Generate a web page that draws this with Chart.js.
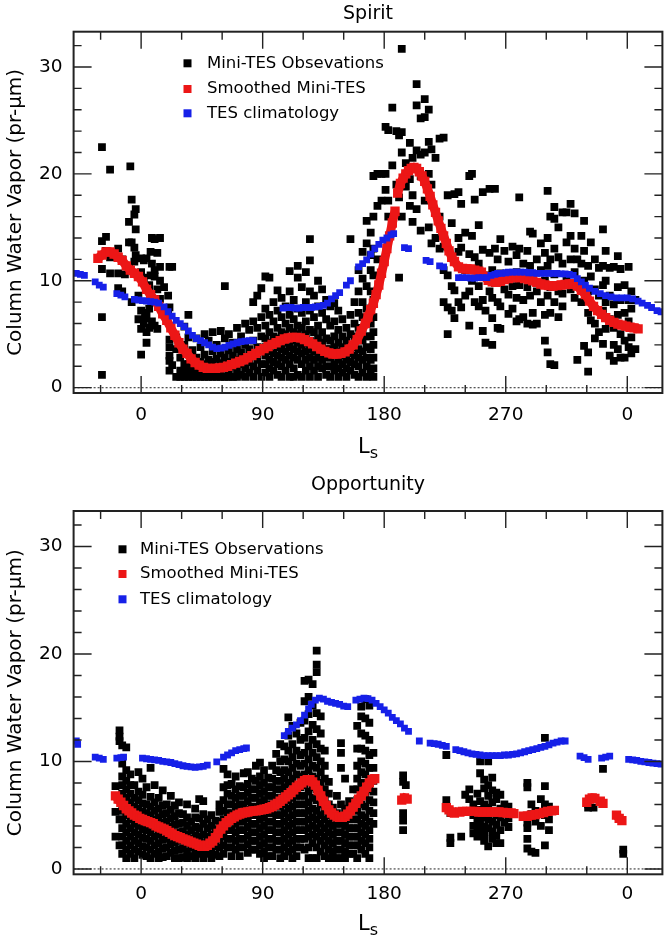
<!DOCTYPE html>
<html><head><meta charset="utf-8">
<script src="https://cdn.jsdelivr.net/npm/chart.js@4.4.0/dist/chart.umd.min.js"></script>
<style>
html,body{margin:0;padding:0;background:#fff;}
#wrap{position:relative;width:669px;height:942px;overflow:hidden;}
canvas{position:absolute;left:0;}
</style></head><body>
<div id="wrap">
<canvas id="c1" width="669" height="471" style="top:0"></canvas>
<canvas id="c2" width="669" height="471" style="top:471px"></canvas>
</div>
<script>
// ---------- axis ticks ----------
const xTickValues = [0, 90, 180, 270, 360];
const xTickLabels = ['0', '90', '180', '270', '0'];
const xMinorTicks = [-30, 30, 60, 120, 150, 210, 240, 300, 330];
const yTickValues = [0, 10, 20, 30];
const yMinorTicks = [2, 4, 6, 8, 12, 14, 16, 18, 22, 24, 26, 28, 32];

const spiritLegend = ['Mini-TES Obsevations', 'Smoothed Mini-TES', 'TES climatology'];
const oppLegend = ['Mini-TES Observations', 'Smoothed Mini-TES', 'TES climatology'];

// ---------- Spirit ----------
// Mini-TES observations: [Ls, [column water vapor values at that Ls]]
const spiritObs = [
 [-29,[22.5,13.7,11.1,6.6,1.2]],[-26,[14.1,12.8]],[-23,[20.4,12.2,10.7]],[-17,[13.0,10.7,9.3]],
 [-14,[9.0,12.0]],[-12,[10.6]],[-9,[15.5,13.6,11.2]],[-8,[20.7]],[-7,[17.6,13.6,8.0]],
 [-5,[16.2,13.1,11.8]],[-4,[16.7,14.8,12.4]],[-2,[8.6,6.4]],[0,[12.1,10.8,7.2,5.5,3.1]],
 [2,[11.9,10.3,6.0]],[3,[7.0,6.5]],[4,[12.1,6.8,5.2,4.2]],[6,[9.6,9.0,5.6,7.4]],[7,[10.5,12.7]],
 [8,[14.0,11.6,6.2]],[10,[13.9,11.0,10.4,5.8]],[12,[12.6,9.2,5.5]],[14,[14.0,11.3,10.0,8.3]],
 [17,[9.4,7.2]],[20,[8.6,6.9]],[21,[11.3,7.5,4.5,3.8,3.0,2.5,1.6]],[23,[11.3,2.1]],
 [26,[4.7,3.6,1.0]],[29,[2.8,1.6,1.0]],[32,[5.7,4.0,2.2,1.6,1.0]],[35,[6.8,4.7,2.2,1.6,1.0]],
 [38,[3.5,2.2,1.6,1.0]],[41,[4.6,2.8,2.2,1.6,1.0]],[44,[3.8,2.4,1.6,1.0]],[47,[5.0,3.1,2.2,1.6,1.0]],
 [50,[4.4,2.6,1.6,1.0]],[53,[5.2,3.4,2.4,1.6,1.0]],[56,[4.0,2.7,1.8,1.0]],[59,[5.3,3.2,2.3,1.6,1.0]],
 [62,[9.5,4.6,2.8,1.8,1.0]],[65,[5.0,3.5,2.4,1.6,1.0]],[68,[4.2,3.0,2.0,1.0]],[71,[5.6,3.6,2.6,1.6,1.0]],
 [74,[4.8,3.3,2.2,1.2]],[77,[6.0,4.0,2.8,1.8,1.0]],[80,[5.4,3.6,2.4,1.4]],[83,[8.0,6.2,4.4,3.2,2.0,1.0]],
 [86,[8.6,5.6,3.8,2.6,1.6]],[89,[9.3,6.6,4.8,3.4,2.2,1.0]],
 [92,[10.4,7.4,5.8,4.6,3.8,3.0,2.2,1.4]],[95,[10.3,6.8,5.2,4.2,3.4,2.6,1.8,1.0]],
 [98,[8.0,6.2,4.8,4.0,3.2,2.4,1.6]],[101,[9.1,7.2,5.6,4.6,3.8,3.0,2.2,1.2]],
 [104,[8.4,6.6,5.2,4.4,3.6,2.8,2.0,1.0]],[107,[7.6,6.0,5.0,4.2,3.4,2.6,1.6]],
 [110,[10.9,9.0,6.8,5.6,4.6,3.8,3.0,2.2,1.0]],[113,[8.2,6.4,5.2,4.4,3.6,2.8,1.8,1.0]],
 [116,[11.4,10.3,7.4,5.8,5.0,4.2,3.4,2.6,1.2]],[119,[9.4,7.0,5.6,4.8,4.0,3.2,2.2,1.0]],
 [122,[10.8,8.0,6.2,5.0,4.2,3.4,2.6,1.6]],[125,[13.9,11.9,9.0,7.2,5.4,4.4,3.6,2.8,2.0,1.0]],
 [128,[8.6,6.6,5.2,4.2,3.4,2.6,1.6]],[131,[10.0,7.6,5.8,4.6,3.6,2.8,2.0,1.0]],
 [134,[9.2,7.0,5.2,4.2,3.4,2.6,1.8]],[137,[8.2,6.4,4.6,3.6,2.8,2.0,1.2]],
 [140,[7.6,5.8,4.4,3.6,2.8,2.0,1.0]],[143,[7.9,6.2,4.8,3.8,3.0,2.2,1.6]],
 [146,[7.2,5.4,4.2,3.4,2.6,1.8,1.0]],[149,[6.4,4.8,3.8,3.0,2.2,1.4]],
 [152,[5.6,4.4,3.4,2.6,1.8,1.0]],[155,[13.9,6.8,5.0,4.0,3.2,2.4,1.6]],
 [158,[8.0,6.0,4.8,3.8,3.0,2.2,1.2]],[161,[11.0,9.0,7.0,5.6,4.6,3.6,2.8,2.0,1.0]],
 [164,[12.7,10.2,8.0,6.6,5.4,4.4,3.4,2.6,1.4]],[167,[15.6,13.5,9.5,7.4,6.0,4.8,3.8,2.8,2.0,1.0]],
 [170,[14.5,12.4,11.0,9.0,7.4,6.0,4.8,3.6,2.6,1.6]],[172,[19.8,16.0,13.0,10.5,8.2,6.6,5.2,4.0,2.8,1.8,1.0]],
 [175,[20.0,17.0,12.0]],[178,[17.5,20.0]],[181,[20.0,24.4,18.5]],[183,[24.1,17.5,16.0]],
 [186,[26.2,20.8]],[189,[24.0,19.0]],[191,[23.6,17.8,10.3]],[193,[31.7,23.9,22.0,16.0]],
 [196,[21.0,18.8]],[199,[22.9,19.5,17.0]],[201,[21.5,18.0,15.5]],[204,[28.4,26.4,22.2,16.7]],
 [207,[25.2,21.8,19.8,14.7]],[210,[27.0,25.3,22.0,17.5]],[213,[26.0,23.0,20.0,15.0]],
 [215,[22.3,19.0,13.5]],[218,[21.5,14.0]],[221,[23.3,16.0,13.0]],[224,[23.4,13.2,11.0,8.0]],
 [227,[18.0,10.5,7.5,5.0]],[230,[15.4,9.5,7.2]],[232,[18.1,9.1,6.5]],[235,[18.3,14.0,12.7,8.0]],
 [237,[17.2,13.1,7.5]],[240,[14.5,11.0,8.6]],[243,[19.8,12.5,9.0,5.8]],[245,[20.0,14.2,10.0]],
 [247,[17.6,12.2,8.0]],[250,[15.2,11.6,9.5,7.6]],[253,[18.3,12.9,8.2,5.3]],[255,[10.5,7.2,4.2]],
 [258,[18.6,12.6,9.0]],[260,[11.0,8.4,6.5,4.0]],[262,[18.6,13.0,9.8]],[264,[12.0,8.0,5.6]],
 [266,[13.9,10.7,7.6,5.5]],[269,[12.8,9.2]],[272,[11.8,10.4,8.7,6.9]],[275,[13.2,9.5,7.4]],
 [278,[12.4,10.8,8.4,6.2]],[280,[17.8,13.0,9.6,6.4]],[283,[11.6,8.2,6.6]],[286,[12.8,9.4,6.0]],
 [288,[14.6,11.4,8.6]],[290,[14.4,10.2,7.0,5.9]],[293,[12.0,9.0,6.0]],[296,[13.5,11.0,8.0]],
 [299,[12.6,10.0,6.8,4.4]],[301,[18.4,14.0,11.4,8.6,3.3]],[303,[16.0,12.0,9.4,7.0,2.2]],
 [306,[16.9,15.8,13.0,10.6,8.0,2.1]],[309,[15.0,12.2,9.0,6.6]],[312,[16.4,11.6,8.8,7.6]],
 [315,[16.4,13.6,10.4]],[318,[17.2,14.2,12.0,9.2]],[321,[16.3,13.0,10.8,8.4]],[323,[12.0,9.6,2.6]],
 [326,[14.2,11.6,8.0]],[328,[15.6,12.8,10.0,3.9]],[331,[11.4,9.0,7.0,3.3,1.5]],[333,[13.6,10.4,6.3]],
 [336,[12.0,9.2,6.0,4.6]],[339,[11.2,8.6,5.2]],[342,[14.8,11.4,9.6,7.2,4.1]],[344,[12.8,10.0,8.0,5.5]],
 [347,[11.2,8.6,6.4,3.0]],[350,[11.3,7.8,5.6,4.0,2.5]],[353,[12.3,9.4,6.8,3.6]],[355,[11.1,8.2,5.0,2.8]],
 [358,[9.6,7.0,4.4,2.8]],[361,[11.3,8.2,6.2,3.8]],[363,[9.0,7.4,4.7,3.2]],[366,[8.2,5.6,3.6]]
];
// Smoothed Mini-TES: [Ls, value]; null marks a break in the curve
const spiritSmoothed = [
 [-32,12.1],[-29,12.4],[-26,12.7],[-23,12.7],[-20,12.5],[-17,12.2],[-14,11.9],[-11,11.4],[-8,11.0],
 [-5,10.7],[-2,10.4],[1,9.9],[4,9.2],[7,8.7],[10,8.2],[13,7.6],[16,6.9],[19,6.3],[22,5.6],[25,4.9],
 [28,4.2],[31,3.6],[34,3.2],[37,2.7],[40,2.35],[43,2.1],[46,1.9],[49,1.8],[52,1.8],[55,1.8],
 [58,1.85],[61,1.9],[64,2.0],[67,2.15],[70,2.3],[73,2.45],[76,2.6],[79,2.8],[82,3.0],[85,3.2],
 [88,3.45],[91,3.65],[94,3.85],[97,4.05],[100,4.2],[103,4.4],[106,4.55],[109,4.65],[112,4.7],
 [115,4.7],[118,4.65],[121,4.5],[124,4.3],[127,4.1],[130,3.85],[133,3.6],[136,3.4],[139,3.25],
 [142,3.15],[145,3.15],[148,3.2],[151,3.35],[154,3.6],[157,4.0],[160,4.5],[163,5.3],[166,6.0],
 [168,6.6],[170,7.3],[172,7.9],[174,8.7],[176,9.6],[178,10.7],[180,11.8],[182,13.0],[184,14.2],
 [186,15.4],[188,16.5],null,
 [190,18.2],[192,19.1],[194,19.6],[196,20.0],[198,20.3],[200,20.5],[202,20.6],[204,20.5],
 [206,20.2],[208,19.8],[210,19.3],[212,18.6],[214,17.9],[216,17.1],[218,16.4],[220,15.6],
 [222,14.9],[224,14.2],[226,13.5],[228,12.8],[230,12.2],[232,11.8],[235,11.3],[238,11.15],
 [241,11.1],[244,11.1],[247,11.0],[250,10.9],[252,10.8],[254,10.4],[257,10.05],[260,9.9],
 [263,9.86],[266,9.95],[269,10.1],[272,10.2],[275,10.3],[278,10.3],[281,10.3],[284,10.2],
 [287,10.1],[290,10.0],[293,9.85],[296,9.7],[299,9.6],[302,9.55],[305,9.5],[308,9.55],
 [311,9.6],[314,9.65],[317,9.7],[320,9.7],[323,9.5],[326,9.1],[329,8.7],[332,8.1],[335,7.6],
 [338,7.2],[341,6.85],[344,6.55],[347,6.3],[350,6.1],[353,5.95],[356,5.85],[359,5.75],
 [362,5.65],[365,5.6],[368,5.5]
];
// TES climatology: [Ls, value]
const spiritTES = [
 [-48,10.7],[-45,10.6],[-42,10.5],[-34,9.9],[-31,9.6],[-28,9.4],[-18,8.8],[-15,8.65],[-12,8.5],
 [-5,8.25],[-2,8.2],[1,8.15],[4,8.1],[7,8.05],[10,8.0],[13,7.9],[17,7.55],[20,7.1],[23,6.7],
 [26,6.3],[29,6.0],[32,5.7],[35,5.3],[38,4.9],[41,4.6],[44,4.4],[47,4.2],[50,4.0],[53,3.8],
 [56,3.65],[59,3.7],[62,3.8],[65,3.95],[68,4.1],[71,4.2],[74,4.3],[77,4.35],[80,4.4],[83,4.4],
 [105,7.45],[108,7.5],[111,7.5],[114,7.45],[117,7.45],[120,7.5],[123,7.5],[126,7.5],[129,7.55],
 [132,7.6],[135,7.7],[138,7.9],[141,8.3],[144,8.6],[147,8.9],[152,9.6],[155,10.0],[161,11.3],
 [164,11.6],[167,11.95],[170,12.5],[173,13.0],[176,13.4],[179,13.8],[182,14.0],[185,14.3],
 [187,14.4],[195,13.1],[198,13.0],[211,11.9],[214,11.8],[221,11.4],[224,11.3],
 [235,10.3],[238,10.3],[241,10.3],[244,10.25],[247,10.25],[250,10.3],[253,10.3],[256,10.3],
 [259,10.5],[262,10.6],[264,10.7],[267,10.7],[270,10.75],[272,10.8],[275,10.8],[278,10.8],
 [281,10.8],[284,10.8],[287,10.75],[290,10.75],[293,10.7],[296,10.7],[299,10.7],[302,10.7],
 [305,10.7],[308,10.7],[311,10.65],[314,10.65],[317,10.6],[320,10.5],[323,10.2],[326,9.9],
 [329,9.6],[332,9.3],[336,9.0],[340,8.8],[344,8.6],[348,8.5],[352,8.4],[356,8.4],[360,8.4],
 [364,8.3],[368,8.1],[371,7.9],[375,7.7],[378,7.5],[382,7.2],[385,7.1]
];

// ---------- Opportunity ----------
const oppObs = [
 [-19,[7.7,5.3,3.0]],[-16,[12.9,12.3,11.9,6.4,4.6,2.2]],
 [-14,[11.5,9.8,8.6,7.8,7.0,6.2,5.4,4.6,3.8,3.0,2.2,1.4]],[-11,[11.3,9.2,8.2,7.4,6.6,5.8,5.0,4.2,3.4,2.6,1.8,1.0]],
 [-8,[8.8,7.8,7.0,6.2,5.4,4.6,3.8,3.0,2.2,1.4]],[-5,[7.8,6.6,5.8,5.0,4.2,3.4,2.6,1.8,1.0]],
 [-2,[9.0,7.2,6.4,5.6,4.8,4.0,3.2,2.4,1.6]],[1,[8.4,6.9,6.1,5.3,4.5,3.7,2.9,2.1,1.3]],
 [4,[7.6,6.0,5.2,4.4,3.6,2.8,2.0,1.2]],[7,[9.4,6.7,5.8,5.0,4.2,3.4,2.6,1.8,1.0]],
 [10,[7.8,6.2,5.4,4.6,3.8,3.0,2.2,1.4]],[13,[6.6,5.6,4.8,4.0,3.2,2.4,1.6,1.0]],
 [16,[7.3,5.9,5.1,4.3,3.5,2.7,1.9,1.1]],[19,[6.0,5.2,4.4,3.6,2.8,2.0,1.2]],
 [22,[6.8,5.5,4.7,3.9,3.1,2.3,1.5]],[25,[5.9,4.9,4.1,3.3,2.5,1.7,1.0]],
 [28,[6.2,5.2,4.2,3.4,2.6,1.8,1.0]],[31,[5.1,4.3,3.5,2.7,1.9,1.1]],
 [34,[6.0,4.8,4.0,3.2,2.4,1.6,1.0]],[37,[4.4,3.6,2.8,2.0,1.2]],
 [40,[5.6,4.8,3.9,3.1,2.3,1.5,1.0]],[43,[6.5,4.7,3.8,3.0,2.2,1.4]],
 [46,[6.3,5.1,4.2,3.2,2.4,1.6,1.0]],[49,[4.6,3.8,3.0,2.2,1.4]],
 [52,[5.0,4.0,3.2,2.4,1.6,1.0]],[55,[4.5,3.7,2.9,2.1,1.3]],
 [58,[6.0,5.3,4.4,3.6,2.8,2.0,1.2]],[61,[9.3,7.6,6.4,5.4,4.6,3.8,3.0,2.2,1.4]],
 [64,[8.8,7.8,7.0,6.0,5.2,4.4,3.6,2.8,2.0]],[67,[7.9,6.8,6.0,5.2,4.4,3.6,2.8,2.0,1.2]],
 [70,[8.6,7.4,6.6,5.8,5.0,4.2,3.4,2.6,1.8]],[73,[7.7,6.8,6.0,5.2,4.4,3.6,2.8,2.0,1.2]],
 [76,[8.9,7.6,6.8,6.0,5.2,4.4,3.6,2.8,2.0]],[79,[9.0,7.9,7.1,6.3,5.5,4.7,3.9,3.1,2.3,1.5]],
 [82,[8.4,7.4,6.6,5.8,5.0,4.2,3.4,2.6,1.8]],[85,[9.6,8.2,7.4,6.6,5.8,5.0,4.2,3.4,2.6,1.8]],
 [88,[9.9,8.6,7.8,7.0,6.2,5.4,4.6,3.8,3.0,2.2,1.4]],[91,[9.2,8.0,7.2,6.4,5.6,4.8,4.0,3.2,2.4,1.6,1.0]],
 [94,[8.5,7.6,6.8,6.0,5.2,4.4,3.6,2.8,2.0,1.2]],[97,[9.6,8.4,7.6,6.8,6.0,5.2,4.4,3.6,2.8,2.0,1.2]],
 [100,[10.7,9.2,8.2,7.4,6.6,5.8,5.0,4.2,3.4,2.6,1.8]],
 [103,[11.6,10.0,9.0,8.2,7.4,6.6,5.8,5.0,4.2,3.4,2.6,1.8,1.0]],
 [106,[11.4,10.2,9.2,8.4,7.6,6.8,6.0,5.2,4.4,3.6,2.8,2.0,1.2]],
 [109,[14.1,12.4,11.0,10.0,9.0,8.0,7.2,6.4,5.6,4.8,4.0,3.2,2.4,1.6]],
 [112,[13.3,11.6,10.4,9.4,8.4,7.4,6.6,5.8,5.0,4.2,3.4,2.6,1.8,1.0]],
 [115,[12.6,11.0,9.8,8.8,7.8,6.8,6.0,5.2,4.4,3.6,2.8,2.0,1.2]],
 [118,[13.6,12.0,10.6,9.6,8.6,7.6,6.8,6.0,5.2,4.4,3.6,2.8,2.0]],
 [121,[17.5,15.6,13.8,12.2,10.8,9.8,8.8,7.8,6.8,6.0,5.2,4.4,3.6,2.8,1.8]],
 [124,[17.6,16.0,14.4,12.8,11.4,10.2,9.2,8.2,7.2,6.2,5.4,4.6,3.8,3.0,2.0,1.0]],
 [127,[17.2,15.2,13.4,12.0,10.8,9.6,8.6,7.6,6.6,5.6,4.8,4.0,3.2,2.4,1.0]],
 [130,[20.3,19.0,18.3,14.5,13.0,11.6,10.4,9.4,8.4,7.4,6.4,5.4,4.6,3.8,3.0,2.0,1.0]],
 [133,[14.2,12.6,11.2,10.0,9.0,8.0,7.0,6.0,5.0,4.2,3.4,2.6,1.6]],
 [136,[11.0,9.6,8.4,7.4,6.4,5.4,4.6,3.8,3.0,2.2,1.2]],
 [139,[8.1,7.0,6.0,5.0,4.2,3.4,2.6,1.8,1.0]],[142,[5.7,4.8,4.0,3.2,2.4,1.6,1.0]],
 [145,[6.8,5.2,4.2,3.4,2.6,1.8,1.0]],[148,[11.7,10.8,9.4,6.0,4.2,3.4,2.6,1.8,1.0]],
 [151,[8.4,5.6,4.0,3.2,2.4,1.6,1.0]],[154,[6.3,4.6,3.8,3.0,2.2,1.4]],
 [157,[7.4,5.9,4.6,3.8,3.0,2.2,1.4]],[160,[13.3,11.2,9.6,8.4,7.4,6.4,5.4,4.6,3.8,3.0,2.2,1.0]],
 [163,[15.1,14.2,12.6,11.2,10.0,9.0,8.0,7.0,6.0,5.0,4.2,3.4,2.6,1.8]],
 [166,[15.8,14.0,12.4,11.0,9.8,8.8,7.8,6.8,5.8,4.8,4.0,3.2,2.4,1.4]],
 [169,[15.2,13.6,12.0,10.6,9.4,8.4,7.4,6.4,5.4,4.4,3.6,2.8,2.0,1.0]],
 [172,[10.8,9.4,8.2,7.2,6.2,5.2,4.2]],
 [194,[8.7,8.1,5.2,4.5,3.6]],[196,[7.8]],[226,[10.6,6.4,5.8]],[229,[5.2,2.9,2.4]],[237,[3.0]],
 [240,[6.9]],[243,[7.4,6.5]],[246,[6.0,5.0,4.0,3.3]],[249,[7.0,4.6,3.8,3.0]],
 [251,[10.0,8.9,6.3,5.5,4.2,3.5]],[254,[8.3,7.5,6.0,4.8,3.9,3.2,2.6]],
 [257,[10.0,7.8,6.8,5.7,4.6,3.8,2.1]],[260,[8.5,7.3,6.2,4.4,3.5,2.8]],
 [263,[7.1,6.5,5.0,4.1,3.1,2.4]],[266,[6.9,5.6,4.8,3.6,2.4]],[269,[6.0,5.4,4.3]],[272,[5.8,4.7,3.9]],
 [286,[8.0,7.6,4.3,3.8,2.8,1.9]],[289,[6.0,5.1,1.6]],[292,[5.4,4.4,1.5]],[296,[6.5,4.0]],
 [299,[12.2,7.7,6.0,5.0,2.2]],[302,[5.8,4.6,3.6]],[331,[5.7,6.0]],[335,[5.7]],[342,[9.3]],[357,[1.8,1.4]]
];
const oppSmoothed = [
 [-19,6.8],[-17,6.5],[-15,6.2],[-13,5.9],[-11,5.6],[-9,5.4],[-7,5.2],[-5,5.0],[-3,4.9],[-1,4.7],
 [1,4.6],[3,4.5],[5,4.4],[7,4.3],[9,4.2],[11,4.0],[13,3.9],[15,3.8],[17,3.7],[19,3.55],[21,3.4],
 [23,3.25],[25,3.1],[27,3.0],[29,2.9],[31,2.8],[33,2.7],[35,2.6],[37,2.5],[39,2.4],[41,2.3],
 [43,2.2],[45,2.1],[47,2.1],[49,2.2],[51,2.4],[53,2.6],[55,2.9],[57,3.3],[59,3.7],[61,4.0],
 [63,4.3],[65,4.5],[67,4.7],[69,4.85],[71,5.0],[73,5.1],[75,5.2],[77,5.25],[79,5.3],[81,5.35],
 [83,5.4],[85,5.4],[87,5.45],[89,5.5],[91,5.55],[93,5.6],[95,5.7],[97,5.8],[99,5.95],[101,6.1],
 [103,6.3],[105,6.5],[107,6.7],[109,6.9],[111,7.1],[113,7.35],[115,7.6],[117,7.8],[119,8.0],
 [121,8.2],[123,8.3],[125,8.3],[127,8.1],[129,7.8],[131,7.3],[133,6.8],[135,6.3],[137,5.9],
 [139,5.5],[141,5.2],[143,5.0],[145,4.85],[147,4.8],[149,4.8],[151,4.9],[153,5.1],[155,5.4],
 [157,5.75],[159,6.1],[161,6.5],[163,6.8],[165,7.2],[167,7.6],[169,8.0],[171,8.3],[173,8.4],null,
 [193,6.4],[195,6.6],[197,6.5],null,
 [226,5.7],[228,5.5],[230,5.3],[232,5.2],null,
 [236,5.3],[238,5.35],[241,5.35],[244,5.35],[247,5.35],[250,5.3],[253,5.3],[256,5.3],[259,5.3],
 [262,5.3],[265,5.3],[268,5.25],[271,5.2],[274,5.2],[276,5.15],null,
 [283,4.9],[286,4.9],[289,5.0],[292,5.05],[295,5.15],[298,5.25],[301,5.35],[304,5.4],[306,5.45],null,
 [330,6.2],[332,6.5],[334,6.6],[336,6.55],null,[340,6.3],[342,6.1],null,
 [352,5.0],[354,4.7],[356,4.5]
];
const oppTES = [
 [-48,11.9],[-47,11.6],[-34,10.4],[-31,10.3],[-28,10.2],[-18,10.3],[-15,10.35],[-13,10.4],
 [1,10.3],[4,10.25],[7,10.2],[10,10.15],[13,10.1],[16,10.0],[19,9.95],[22,9.9],[25,9.8],[28,9.7],
 [31,9.6],[34,9.55],[37,9.5],[40,9.45],[43,9.5],[46,9.55],[49,9.65],[56,9.95],[61,10.4],[64,10.6],
 [67,10.8],[70,11.0],[73,11.1],[76,11.2],[78,11.25],
 [106,12.4],[109,12.8],[112,13.1],[115,13.4],[118,13.8],[121,14.3],[124,14.9],[126,15.3],[129,15.7],
 [132,15.9],[135,15.8],[138,15.6],[141,15.5],[144,15.4],[147,15.3],[150,15.15],[153,15.1],
 [159,15.7],[162,15.8],[165,15.9],[168,15.85],[171,15.7],[174,15.4],[177,15.1],[180,14.8],
 [183,14.5],[186,14.1],[189,13.8],[192,13.5],[195,13.1],[198,12.8],[206,11.9],[214,11.7],
 [217,11.65],[220,11.6],[223,11.5],[226,11.4],[233,11.1],[236,11.0],[239,10.9],[242,10.8],
 [245,10.7],[248,10.65],[251,10.6],[254,10.55],[257,10.55],[260,10.55],[263,10.55],[266,10.55],
 [269,10.6],[272,10.6],[275,10.65],[278,10.7],[281,10.8],[284,10.9],[287,11.0],[290,11.1],
 [293,11.2],[296,11.3],[299,11.4],[302,11.55],[305,11.7],[308,11.8],[311,11.9],[314,11.9],
 [325,10.5],[328,10.35],[331,10.2],[341,10.3],[344,10.4],[347,10.5],[361,10.2],[364,10.15],
 [367,10.1],[370,10.0],[373,9.95],[376,9.9],[379,9.85],[382,9.8],[385,9.75]
];

// ---------- rendering ----------
const FONT = "'DejaVu Sans', 'Liberation Sans', sans-serif";
const RED = 'rgb(236,22,22)';
const BLUE = 'rgb(22,32,232)';
const BLACK = '#000';

function columnsToPoints(cols) {
  const out = [];
  cols.forEach(([x, vals]) => vals.forEach(v => out.push({x: x, y: v})));
  return out;
}
function pairsToPoints(arr) {
  let lastX = 0;
  return arr.map(p => {
    if (p === null) return {x: lastX, y: null};
    lastX = p[0];
    return {x: p[0], y: p[1]};
  });
}

const decor = {
  id: 'decor',
  beforeDatasetsDraw(chart, args, o) {
    const {ctx, chartArea: a} = chart;
    const y0 = chart.scales.y.getPixelForValue(0);
    ctx.save();
    ctx.strokeStyle = '#555';
    ctx.lineWidth = 1.3;
    ctx.setLineDash([2, 2]);
    ctx.beginPath(); ctx.moveTo(a.left, y0); ctx.lineTo(a.right, y0); ctx.stroke();
    ctx.restore();
  },
  afterDatasetsDraw(chart, args, o) {
    const {ctx, chartArea: a} = chart;
    const xs = chart.scales.x, ys = chart.scales.y;
    ctx.save();
    ctx.strokeStyle = '#222';
    ctx.lineWidth = 1.4;
    ctx.beginPath();
    const yt = (vals, len) => vals.forEach(v => {
      const p = ys.getPixelForValue(v);
      ctx.moveTo(a.left, p); ctx.lineTo(a.left + len, p);
      ctx.moveTo(a.right, p); ctx.lineTo(a.right - len, p);
    });
    const xt = (vals, len) => vals.forEach(v => {
      const p = xs.getPixelForValue(v);
      ctx.moveTo(p, a.bottom); ctx.lineTo(p, a.bottom - len);
      ctx.moveTo(p, a.top); ctx.lineTo(p, a.top + len);
    });
    yt(yTickValues, 18); yt(yMinorTicks, 8);
    xt(xTickValues, 17); xt(xMinorTicks, 8);
    ctx.stroke();
    ctx.lineWidth = 2;
    ctx.strokeRect(a.left, a.top, a.right - a.left, a.bottom - a.top);
    ctx.restore();
  },
  afterDraw(chart, args, o) {
    const {ctx, chartArea: a} = chart;
    ctx.save();
    ctx.fillStyle = '#000';
    // title
    ctx.font = '19px ' + FONT;
    ctx.textAlign = 'center';
    ctx.textBaseline = 'alphabetic';
    ctx.fillText(o.title, (a.left + a.right) / 2, o.titleBaseline);
    // legend
    const colors = [BLACK, RED, BLUE];
    ctx.font = '16.5px ' + FONT;
    ctx.textAlign = 'left';
    ctx.textBaseline = 'middle';
    o.legendLabels.forEach((lab, i) => {
      const ry = o.legendRows[i];
      ctx.fillStyle = colors[i];
      ctx.fillRect(o.legendMarkerX - 4, ry - 4, 8, 8);
      ctx.fillStyle = '#000';
      ctx.fillText(lab, o.legendTextX, ry);
    });
    // x axis title L with subscript s
    ctx.textBaseline = 'alphabetic';
    ctx.font = '21px ' + FONT;
    const lw = ctx.measureText('L').width;
    const cx = (a.left + a.right) / 2;
    ctx.font = '16px ' + FONT;
    const sw = ctx.measureText('s').width;
    const x0 = cx - (lw + sw) / 2;
    ctx.font = '21px ' + FONT;
    ctx.fillText('L', x0, o.lsBaseline);
    ctx.font = '16px ' + FONT;
    ctx.fillText('s', x0 + lw, o.lsBaseline + 5);
    ctx.restore();
  }
};

function makeChart(id, cfg) {
  return new Chart(document.getElementById(id), {
    type: 'scatter',
    data: {
      datasets: [
        {label: cfg.legend[2], data: pairsToPoints(cfg.tes), pointStyle: 'rect', pointRadius: 4.8,
         backgroundColor: BLUE, borderColor: BLUE, pointBorderWidth: 0},
        {label: cfg.legend[1], data: pairsToPoints(cfg.smooth), showLine: true, spanGaps: false,
         borderColor: RED, borderWidth: 9, pointStyle: 'rect', pointRadius: 6.6,
         backgroundColor: RED, pointBorderWidth: 0},
        {label: cfg.legend[0], data: columnsToPoints(cfg.obs), pointStyle: 'rect', pointRadius: 5.5,
         backgroundColor: BLACK, borderColor: BLACK, pointBorderWidth: 0}
      ]
    },
    options: {
      responsive: false, animation: false, devicePixelRatio: 1, events: [],
      layout: {padding: {top: cfg.top, right: 4, left: 0, bottom: 0}},
      plugins: {
        legend: {display: false}, title: {display: false}, tooltip: {enabled: false},
        decor: {title: cfg.title, titleBaseline: cfg.titleBaseline, legendLabels: cfg.legend,
                legendMarkerX: cfg.legendMarkerX, legendTextX: cfg.legendTextX,
                legendRows: cfg.legendRows, lsBaseline: cfg.lsBaseline}
      },
      scales: {
        x: {
          type: 'linear', min: -50, max: 386,
          grid: {display: false, drawTicks: false}, border: {display: false},
          afterFit: s => { s.height = cfg.xHeight; },
          afterBuildTicks: s => { s.ticks = xTickValues.map(v => ({value: v})); },
          ticks: {autoSkip: false, maxRotation: 0, padding: cfg.xPad, color: '#000',
                  font: {family: FONT, size: 18.5}, callback: (v, i) => xTickLabels[i]}
        },
        y: {
          type: 'linear', min: -0.5, max: 33.3,
          grid: {display: false, drawTicks: false}, border: {display: false},
          afterFit: s => { s.width = 73.6; },
          afterBuildTicks: s => { s.ticks = yTickValues.map(v => ({value: v})); },
          ticks: {padding: 11, color: '#000', font: {family: FONT, size: 18.5}},
          title: {display: true, text: 'Column Water Vapor (pr-μm)', color: '#000',
                  font: {family: FONT, size: 20}, padding: {top: 4, bottom: 0}}
        }
      }
    },
    plugins: [decor]
  });
}

makeChart('c1', {
  title: 'Spirit', obs: spiritObs, smooth: spiritSmoothed, tes: spiritTES, legend: spiritLegend,
  top: 31.7, xHeight: 78, xPad: 11, titleBaseline: 18.5,
  legendMarkerX: 187.5, legendTextX: 207, legendRows: [63.3, 89, 113.3], lsBaseline: 453
});
makeChart('c2', {
  title: 'Opportunity', obs: oppObs, smooth: oppSmoothed, tes: oppTES, legend: oppLegend,
  top: 40, xHeight: 67.7, xPad: 9, titleBaseline: 19,
  legendMarkerX: 122.5, legendTextX: 140, legendRows: [78.3, 103, 128.3], lsBaseline: 459
});
</script>
</body></html>
